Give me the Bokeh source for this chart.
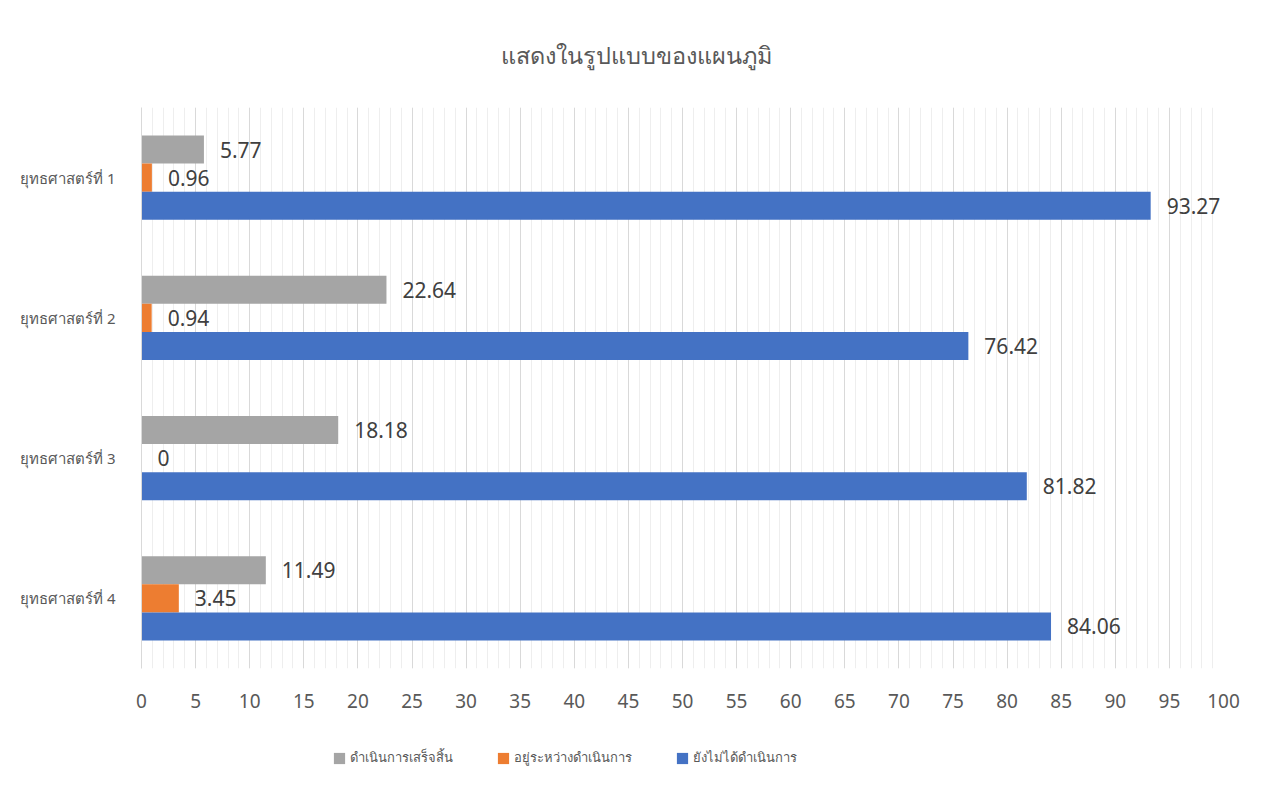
from bokeh.plotting import figure
from bokeh.models import ColumnDataSource, FactorRange, Range1d, SingleIntervalTicker, Legend, LegendItem, LabelSet
from bokeh.layouts import column
from bokeh.transform import dodge
from bokeh.core.properties import value
from bokeh.embed import file_html
from bokeh.resources import INLINE

categories = ["ยุทธศาสตร์ที่ 1", "ยุทธศาสตร์ที่ 2", "ยุทธศาสตร์ที่ 3", "ยุทธศาสตร์ที่ 4"]
series_names = ["ดำเนินการเสร็จสิ้น", "อยู่ระหว่างดำเนินการ", "ยังไม่ได้ดำเนินการ"]
done = [5.77, 22.64, 18.18, 11.49]
in_progress = [0.96, 0.94, 0, 3.45]
not_started = [93.27, 76.42, 81.82, 84.06]
colors = ["#a5a5a5", "#ed7d31", "#4472c4"]

FONT = "Noto Sans"

p = figure(width=1257, height=720, output_backend="svg", toolbar_location=None,
           y_range=FactorRange(factors=categories[::-1], range_padding=0),
           x_range=Range1d(0, 100),
           min_border_left=141, min_border_right=34, min_border_top=106, min_border_bottom=52)
p.title.text = "แสดงในรูปแบบของแผนภูมิ"
p.title.align = "left"
p.title.offset = 359
p.title.text_font = FONT
p.title.text_font_size = "23.5px"
p.title.text_font_style = "normal"
p.title.text_color = "#595959"
p.title.standoff = 73
p.outline_line_color = None

src = ColumnDataSource(dict(cat=categories, done=done, prog=in_progress, notst=not_started,
                            done_l=[f"{v:g}" for v in done],
                            prog_l=[f"{v:g}" for v in in_progress],
                            notst_l=[f"{v:g}" for v in not_started]))

offsets = [0.2, 0.0, -0.2]
cols = ["done", "prog", "notst"]
for col, off, c in zip(cols, offsets, colors):
    p.hbar(y=dodge("cat", off, range=p.y_range), right=col, left=0, height=0.2,
           source=src, fill_color=c, line_color=None)
    lbl = LabelSet(x=col, y=dodge("cat", off, range=p.y_range), text=col + "_l", source=src,
                   x_offset=16, text_baseline="middle", text_font=value(FONT),
                   text_font_size=value("21px"), text_color="#404040")
    p.add_layout(lbl)

p.xaxis.ticker = SingleIntervalTicker(interval=5, num_minor_ticks=5)
p.xgrid.ticker = p.xaxis.ticker
p.xgrid.grid_line_color = "#d9d9d9"
p.xgrid.minor_grid_line_color = "#eeeeee"
p.ygrid.grid_line_color = None
p.xaxis.axis_line_color = None
p.xaxis.major_tick_line_color = None
p.xaxis.minor_tick_line_color = None
p.xaxis.major_label_text_font = FONT
p.xaxis.major_label_text_font_size = "19px"
p.xaxis.major_label_text_color = "#595959"
p.xaxis.major_label_standoff = 19
p.yaxis.axis_line_color = "#d9d9d9"
p.yaxis.major_tick_line_color = None
p.yaxis.minor_tick_line_color = None
p.yaxis.major_label_text_font = FONT
p.yaxis.major_label_text_font_size = "15px"
p.yaxis.major_label_text_color = "#595959"
p.yaxis.major_label_standoff = 20

# legend strip below the chart (its bars lie outside its visible range)
p2 = figure(width=1257, height=60, output_backend="svg", toolbar_location=None,
            x_range=Range1d(0, 1), y_range=Range1d(0, 1),
            min_border_left=0, min_border_right=0, min_border_top=0, min_border_bottom=0)
p2.axis.visible = False
p2.grid.visible = False
p2.outline_line_color = None
leg_renderers = []
for col, c in zip(cols, colors):
    r = p2.hbar(y=-5, right=col, left=0, height=0.1, source=src, fill_color=c, line_color=None)
    leg_renderers.append(r)
items = [LegendItem(label=n, renderers=[r]) for n, r in zip(series_names, leg_renderers)]
legend = Legend(items=items, orientation="horizontal", location=(191, 12),
                label_text_font=FONT, label_text_font_size="13px", label_text_color="#595959",
                glyph_width=14, glyph_height=14, spacing=43, label_standoff=4,
                border_line_color=None, background_fill_alpha=0, margin=0, padding=6)
p2.add_layout(legend, "center")

open("out.html", "w").write(file_html(column(p, p2), INLINE))
